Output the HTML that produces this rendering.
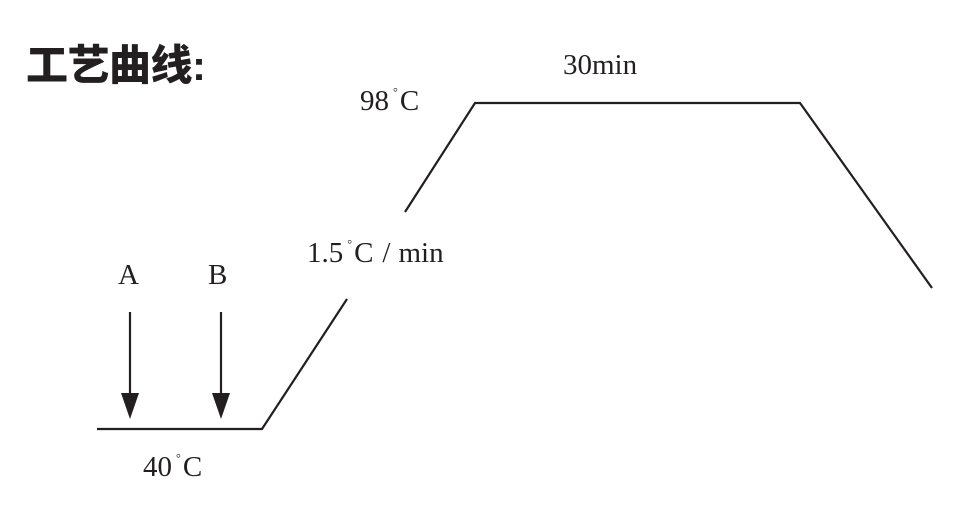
<!DOCTYPE html>
<html><head><meta charset="utf-8"><style>
body{margin:0;background:#fff}
svg{display:block}
text{font-family:"Liberation Serif","Noto Serif CJK SC",serif;fill:#231f20}
</style></head><body>
<svg width="955" height="520" viewBox="0 0 955 520">
<text x="26" y="80" style="font-family:'Liberation Sans','Noto Sans CJK SC',sans-serif;font-weight:900" font-size="42" textLength="180">工艺曲线:</text>
<g stroke="#231f20" stroke-width="2.2" fill="none">
<polyline points="97,429 262,429 347,299"/>
<polyline points="405,212 475,103 800,103 932,288"/>
<line x1="130" y1="312" x2="130" y2="400"/>
<line x1="221" y1="312" x2="221" y2="400"/>
</g>
<polygon points="121,393 139,393 130,419" fill="#231f20"/>
<polygon points="212,393 230,393 221,419" fill="#231f20"/>
<text x="360" y="110" font-size="29">98<tspan font-size="12" dy="-14" dx="4">°</tspan><tspan dy="14" dx="2">C</tspan></text>
<text x="563" y="74" font-size="29">30min</text>
<text x="307" y="262" font-size="29">1.5<tspan font-size="12" dy="-14" dx="4">°</tspan><tspan dy="14" dx="2">C</tspan><tspan dx="9">/</tspan><tspan dx="8">min</tspan></text>
<text x="118" y="284" font-size="29">A</text>
<text x="208" y="284" font-size="29">B</text>
<text x="143" y="476" font-size="29">40<tspan font-size="12" dy="-14" dx="4">°</tspan><tspan dy="14" dx="2">C</tspan></text>
</svg>
</body></html>
